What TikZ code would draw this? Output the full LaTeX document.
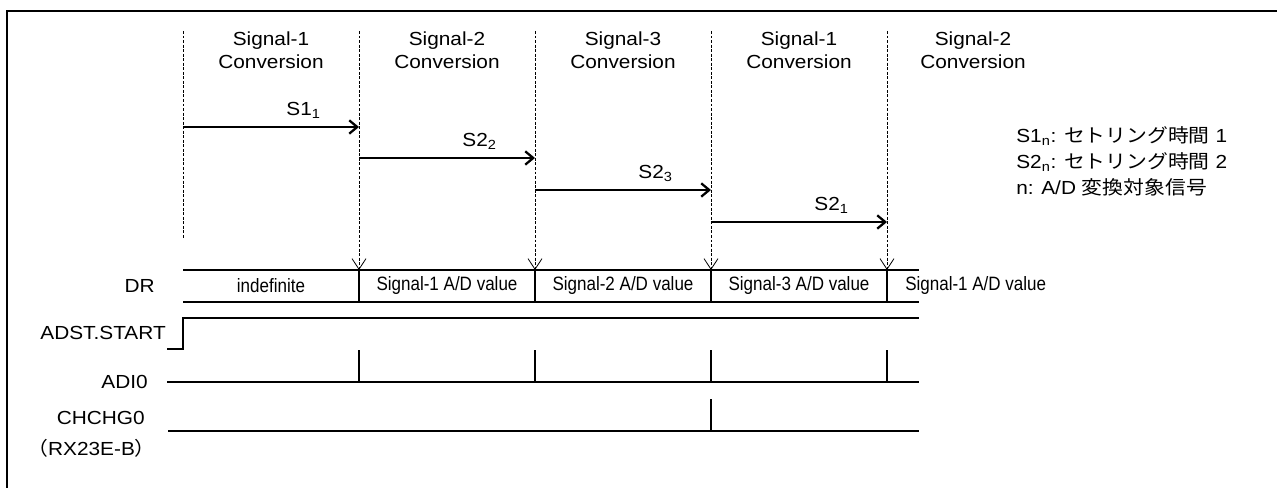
\documentclass[tikz,border=0pt]{standalone}
\usepackage{fontspec}
\setmainfont{Liberation Sans}[FakeStretch=1.1]
\newfontfamily\cellfont{Liberation Sans}[FakeStretch=0.88]
\newfontfamily\jp{Noto Sans CJK JP}[FakeStretch=1.1]
\usetikzlibrary{arrows.meta}
\begin{document}
\begin{tikzpicture}[x=0.75pt,y=-0.75pt,
  frame/.style={line width=1.5pt},
  sig/.style={line width=1.3pt},
  guide/.style={line width=0.5pt, dash pattern=on 2.2pt off 1.2pt},
  guidetip/.style={guide,-{Straight Barb[length=8pt,width=10.5pt,line width=0.6pt]}},
  settle/.style={line width=1.7pt,-{Straight Barb[length=6pt,width=10pt]}},
  txt/.style={inner sep=0pt, font=\fontsize{14.2}{17.25}\selectfont},
  hdr/.style={txt, align=center},
  cell/.style={inner sep=0pt, font=\cellfont\fontsize{14.5}{17}\selectfont},
  lbl/.style={txt, anchor=east}
]
\useasboundingbox (0,0) rectangle (1277,488);
% frame (cut at the right and bottom)
\coordinate (fbl) at (7,490);
\coordinate (ftl) at (7,11.5);
\coordinate (ftr) at (1280,11.5);
\draw[frame] (fbl) -- (ftl) -- (ftr);

% guide tops and bottoms
\foreach \i/\x in {0/183,1/359,2/535,3/711,4/887}{
  \coordinate (g\i) at (\x,31);
  \coordinate (d\i) at (\x,270);
  \coordinate (db\i) at (\x,302);
  \coordinate (p\i) at (\x,350);
  \coordinate (q\i) at (\x,382);
}
\coordinate (g0end) at (183,238);
\draw[guide] (g0) -- (g0end);
\foreach \i in {1,2,3,4}{ \draw[guidetip] (g\i) -- (d\i); }

% headers
\node[hdr] (h1) at (271,50) {Signal-1\\Conversion};
\node[hdr] (h2) at (447,50) {Signal-2\\Conversion};
\node[hdr] (h3) at (623,50) {Signal-3\\Conversion};
\node[hdr] (h4) at (799,50) {Signal-1\\Conversion};
\node[hdr] (h5) at (973,50) {Signal-2\\Conversion};

% settling arrows
\coordinate (s0) at (183,127); \coordinate (s1) at (359,127);
\coordinate (s2) at (359,158); \coordinate (s3) at (535,158);
\coordinate (s4) at (535,190); \coordinate (s5) at (711,190);
\coordinate (s6) at (711,222); \coordinate (s7) at (887,222);
\draw[settle] (s0) -- (s1);
\draw[settle] (s2) -- (s3);
\draw[settle] (s4) -- (s5);
\draw[settle] (s6) -- (s7);
\node[txt, anchor=base east] (ls1) at (321,116) {S1\textsubscript{1}};
\node[txt, anchor=base east] (ls2) at (497,147) {S2\textsubscript{2}};
\node[txt, anchor=base east] (ls3) at (673,179) {S2\textsubscript{3}};
\node[txt, anchor=base east] (ls4) at (849,211) {S2\textsubscript{1}};

% legend
\node[txt, anchor=base west] (lg1) at (1016,143) {S1\textsubscript{n}: {\jp セトリング時間} 1};
\node[txt, anchor=base west] (lg2) at (1016,169) {S2\textsubscript{n}: {\jp セトリング時間} 2};
\node[txt, anchor=base west] (lg3) at (1016,195) {n: A/D {\jp 変換対象信号}};

% DR row
\coordinate (drr) at (919,270);
\coordinate (drbr) at (919,302);
\draw[sig] (d0) -- (drr);
\draw[sig] (db0) -- (drbr);
\foreach \i in {1,2,3,4}{ \draw[sig] (d\i) -- (db\i); }
\node[lbl] (ldr) at (155,286) {DR};
\node[cell] (c1) at (271,286) {indefinite};
\node[cell] (c2) at (447,286) {Signal-1 A/D value};
\node[cell] (c3) at (623,286) {Signal-2 A/D value};
\node[cell] (c4) at (799,286) {Signal-3 A/D value};
\node[cell, anchor=west] (c5) at (905,286) {Signal-1 A/D value};

% ADST.START
\coordinate (as0) at (167,349);
\coordinate (as1) at (183,349);
\coordinate (as2) at (183,318);
\coordinate (as3) at (919,318);
\draw[sig] (as0) -- (as1) -- (as2) -- (as3);
\node[lbl] (lad) at (166,333) {ADST.START};

% ADI0
\coordinate (ad0) at (167,382);
\coordinate (ad1) at (919,382);
\draw[sig] (ad0) -- (ad1);
\foreach \i in {1,2,3,4}{ \draw[sig] (q\i) -- (p\i); }
\node[lbl] (ladi) at (148,382) {ADI0};

% CHCHG0
\coordinate (ch0) at (168,431);
\coordinate (ch1) at (919,431);
\coordinate (chp) at (711,399);
\coordinate (chb) at (711,431);
\draw[sig] (ch0) -- (ch1);
\draw[sig] (chb) -- (chp);
\node[lbl] (lch) at (145,418) {CHCHG0};
\node[lbl] (lrx) at (156,448) {{\jp （}RX23E-B{\jp ）}};
\end{tikzpicture}
\end{document}
